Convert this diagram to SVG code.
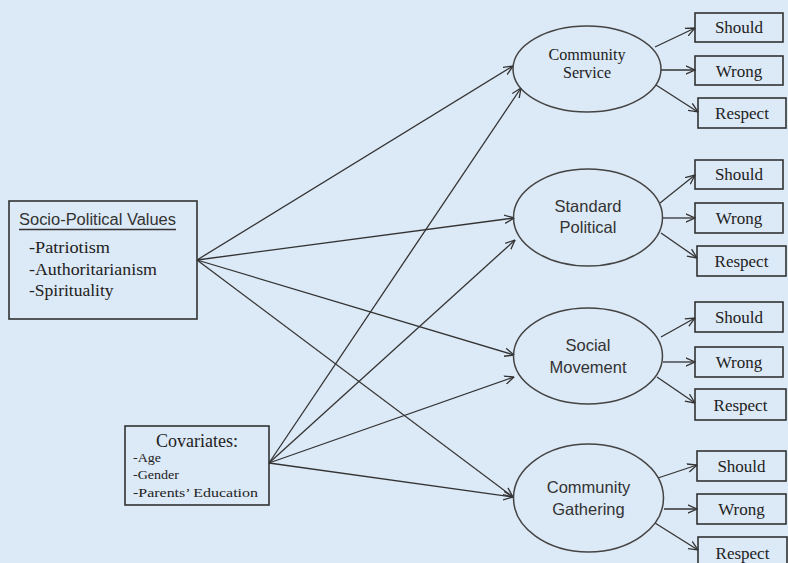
<svg xmlns="http://www.w3.org/2000/svg" width="788" height="563" viewBox="0 0 788 563">
<defs>
<marker id="arr" viewBox="0 0 10 10" refX="9.5" refY="5" markerWidth="10" markerHeight="10" orient="auto" markerUnits="userSpaceOnUse">
<path d="M0,0.8 L9.5,5 L0,9.2" fill="none" stroke="#333" stroke-width="1.3"/>
</marker>
</defs>
<style>
.bg{fill:#dce9f6}
.box{fill:none;stroke:#333;stroke-width:1.6}
.ell{fill:none;stroke:#444;stroke-width:1.5}
.con{stroke:#333;stroke-width:1.3;fill:none;marker-end:url(#arr)}
.serif{font-family:"Liberation Serif","Times New Roman",serif;fill:#222}
.sans{font-family:"Liberation Sans",Arial,sans-serif;fill:#333}
.lbl{font-size:17px;text-anchor:middle}
.ctr{text-anchor:middle}
</style>
<rect class="bg" x="0" y="0" width="788" height="563"/>

<g id="connectors">
<line class="con" x1="197" y1="260" x2="513" y2="66"/>
<line class="con" x1="197" y1="260" x2="514" y2="218"/>
<line class="con" x1="197" y1="260" x2="514" y2="355"/>
<line class="con" x1="197" y1="260" x2="513" y2="497"/>
<line class="con" x1="269" y1="463" x2="521" y2="88"/>
<line class="con" x1="269" y1="463" x2="515" y2="240"/>
<line class="con" x1="269" y1="463" x2="514" y2="377"/>
<line class="con" x1="269" y1="463" x2="513" y2="497"/>

<line class="con" x1="655" y1="47" x2="695" y2="28"/>
<line class="con" x1="661" y1="70" x2="695" y2="70"/>
<line class="con" x1="656" y1="85" x2="698" y2="112"/>

<line class="con" x1="660" y1="203" x2="695" y2="175"/>
<line class="con" x1="663" y1="218" x2="695" y2="218"/>
<line class="con" x1="661" y1="233" x2="697" y2="258"/>

<line class="con" x1="661" y1="337" x2="695" y2="318"/>
<line class="con" x1="663" y1="362" x2="695" y2="362"/>
<line class="con" x1="657" y1="377" x2="695" y2="403"/>

<line class="con" x1="658" y1="478" x2="697" y2="465"/>
<line class="con" x1="664" y1="509" x2="697" y2="509"/>
<line class="con" x1="655" y1="523" x2="698" y2="550"/>
</g>

<g id="socio-political">
<rect class="box" x="9" y="201" width="188" height="118"/>
<text class="sans" x="19" y="225" font-size="16" textLength="157" lengthAdjust="spacingAndGlyphs">Socio-Political Values</text>
<line x1="19" y1="229.5" x2="176" y2="229.5" stroke="#333" stroke-width="1.3"/>
<text class="serif" x="29" y="253" font-size="17.5" textLength="81" lengthAdjust="spacingAndGlyphs">-Patriotism</text>
<text class="serif" x="29" y="275" font-size="17.5" textLength="128" lengthAdjust="spacingAndGlyphs">-Authoritarianism</text>
<text class="serif" x="29" y="296" font-size="17.5">-Spirituality</text>
</g>

<g id="covariates">
<rect class="box" x="125" y="426" width="144" height="79"/>
<text class="serif ctr" x="197" y="447" font-size="18">Covariates:</text>
<text class="serif" x="133" y="462" font-size="12.5" textLength="28" lengthAdjust="spacingAndGlyphs">-Age</text>
<text class="serif" x="133" y="479" font-size="12.5" textLength="46" lengthAdjust="spacingAndGlyphs">-Gender</text>
<text class="serif" x="133" y="497" font-size="12.5" textLength="125" lengthAdjust="spacingAndGlyphs">-Parents’ Education</text>
</g>

<g id="community-service">
<ellipse class="ell" cx="587" cy="69" rx="74" ry="43"/>
<text class="serif ctr" x="587" y="60" font-size="16" textLength="77" lengthAdjust="spacingAndGlyphs">Community</text>
<text class="serif ctr" x="587" y="78" font-size="16">Service</text>
</g>

<g id="standard-political">
<ellipse class="ell" cx="588" cy="217.5" rx="74.5" ry="48.5"/>
<text class="sans ctr" x="588" y="212" font-size="16.5">Standard</text>
<text class="sans ctr" x="588" y="233" font-size="16.5">Political</text>
</g>

<g id="social-movement">
<ellipse class="ell" cx="588" cy="356" rx="74.5" ry="48"/>
<text class="sans ctr" x="588" y="351" font-size="16.5">Social</text>
<text class="sans ctr" x="588" y="373" font-size="16.5">Movement</text>
</g>

<g id="community-gathering">
<ellipse class="ell" cx="588.5" cy="498" rx="75" ry="54"/>
<text class="sans ctr" x="588.5" y="493" font-size="16.5">Community</text>
<text class="sans ctr" x="588.5" y="515" font-size="16.5">Gathering</text>
</g>

<g id="cs-should"><rect class="box" x="695" y="13" width="88" height="29"/><text class="serif lbl" x="739" y="33">Should</text></g>
<g id="cs-wrong"><rect class="box" x="695" y="56" width="88" height="29"/><text class="serif lbl" x="739" y="77">Wrong</text></g>
<g id="cs-respect"><rect class="box" x="698" y="98" width="88" height="30"/><text class="serif lbl" x="742" y="119">Respect</text></g>

<g id="sp-should"><rect class="box" x="695" y="160" width="88" height="29"/><text class="serif lbl" x="739" y="180">Should</text></g>
<g id="sp-wrong"><rect class="box" x="695" y="203" width="88" height="30"/><text class="serif lbl" x="739" y="224">Wrong</text></g>
<g id="sp-respect"><rect class="box" x="697" y="246" width="89" height="30"/><text class="serif lbl" x="741.5" y="267">Respect</text></g>

<g id="sm-should"><rect class="box" x="695" y="302" width="88" height="30"/><text class="serif lbl" x="739" y="323">Should</text></g>
<g id="sm-wrong"><rect class="box" x="695" y="347" width="88" height="30"/><text class="serif lbl" x="739" y="368">Wrong</text></g>
<g id="sm-respect"><rect class="box" x="695" y="389" width="91" height="31"/><text class="serif lbl" x="740.5" y="411">Respect</text></g>

<g id="cg-should"><rect class="box" x="697" y="451" width="89" height="30"/><text class="serif lbl" x="741.5" y="472">Should</text></g>
<g id="cg-wrong"><rect class="box" x="697" y="494" width="89" height="30"/><text class="serif lbl" x="741.5" y="515">Wrong</text></g>
<g id="cg-respect"><rect class="box" x="698" y="537" width="89" height="31"/><text class="serif lbl" x="742.5" y="559">Respect</text></g>
</svg>
